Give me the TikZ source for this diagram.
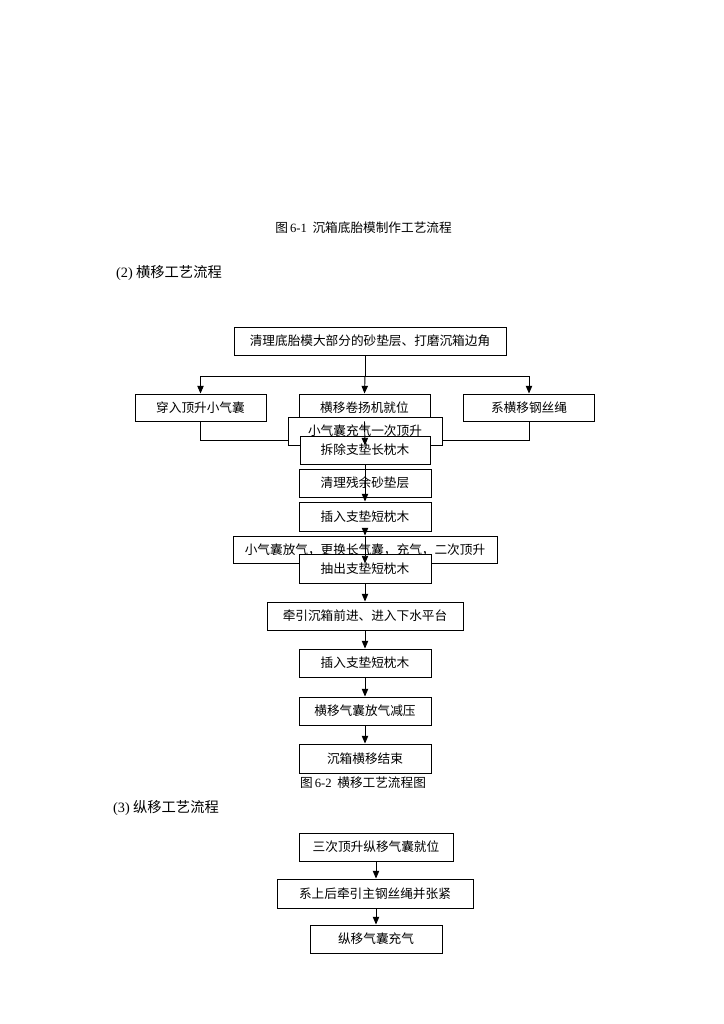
\documentclass[tikz,border=0pt]{standalone}
\usepackage{fontspec}
\setmainfont{Noto Sans CJK SC}
\newfontfamily\lat{Liberation Serif}
\usetikzlibrary{arrows.meta,calc}
\tikzset{
  box/.style={draw=black, line width=0.8pt, fill=white, inner sep=0pt,
    font=\fontsize{10.8}{12}\selectfont},
  txt/.style={inner sep=0pt, font=\fontsize{10.8}{12}\selectfont},
  head/.style={inner sep=0pt, font=\fontsize{12.2}{14}\selectfont},
  ln/.style={line width=0.8pt},
  arr/.style={line width=0.8pt, -{Triangle[length=2.3mm,width=1.9mm]}}
}
\begin{document}
\begin{tikzpicture}[x=0.3mm,y=-0.3mm]
\useasboundingbox (0,0) rectangle (724,1024);
% captions
\node[txt] (cap1) at (363.5,228) {图{\lat\,6-1}\ \ 沉箱底胎模制作工艺流程};
\node[head,anchor=west] (sec2) at (116,273) {{\lat(2)}\ 横移工艺流程};
\node[txt] (cap2) at (363,783) {图{\lat\,6-2}\ \ 横移工艺流程图};
\node[head,anchor=west] (sec3) at (113,808) {{\lat(3)}\ 纵移工艺流程};
% boxes
\node[box,minimum width=272*0.3mm,minimum height=28*0.3mm] (b1) at (370,341) {清理底胎模大部分的砂垫层、打磨沉箱边角};
\node[box,minimum width=131*0.3mm,minimum height=27*0.3mm] (L) at (200.5,407.5) {穿入顶升小气囊};
\node[box,minimum width=131*0.3mm,minimum height=27*0.3mm] (M) at (364.5,407.5) {横移卷扬机就位};
\node[box,minimum width=131*0.3mm,minimum height=27*0.3mm] (R) at (529,407.5) {系横移钢丝绳};
\node[box,minimum width=154*0.3mm,minimum height=28*0.3mm] (qi) at (365,431) {小气囊充气一次顶升};
\node[box,minimum width=130*0.3mm,minimum height=28*0.3mm] (cc) at (365,450) {拆除支垫长枕木};
\node[box,minimum width=132*0.3mm,minimum height=28*0.3mm] (ql) at (365,483) {清理残余砂垫层};
\node[box,minimum width=132*0.3mm,minimum height=29*0.3mm] (cr1) at (365,516.5) {插入支垫短枕木};
\node[box,minimum width=264*0.3mm,minimum height=27*0.3mm] (fq) at (365,549.5) {小气囊放气，更换长气囊，充气，二次顶升};
\node[box,minimum width=132*0.3mm,minimum height=29*0.3mm] (cz) at (365,568.5) {抽出支垫短枕木};
\node[box,minimum width=196*0.3mm,minimum height=28*0.3mm] (qy) at (365,616) {牵引沉箱前进、进入下水平台};
\node[box,minimum width=132*0.3mm,minimum height=28*0.3mm] (cr2) at (365,663) {插入支垫短枕木};
\node[box,minimum width=132*0.3mm,minimum height=28*0.3mm] (hq) at (365,711) {横移气囊放气减压};
\node[box,minimum width=132*0.3mm,minimum height=29*0.3mm] (jc) at (365,758.5) {沉箱横移结束};
\node[box,minimum width=154*0.3mm,minimum height=28*0.3mm] (z1) at (376,847) {三次顶升纵移气囊就位};
\node[box,minimum width=196*0.3mm,minimum height=29*0.3mm] (z2) at (375,893.5) {系上后牵引主钢丝绳并张紧};
\node[box,minimum width=132*0.3mm,minimum height=28*0.3mm] (z3) at (376,939) {纵移气囊充气};
% split connectors
\coordinate (bus) at (365,376);
\draw[ln] (b1.south -| bus) -- (bus);
\draw[arr] (bus -| L) -- (L.north);
\draw[arr] (bus) -- (M.north);
\draw[arr] (bus -| R) -- (R.north);
\draw[ln] (bus -| L) -- (bus -| R);
% merge brackets
\coordinate (mg) at (0,440);
\draw[ln] (L.south) -- (mg -| L) -- (mg -| qi.west);
\draw[ln] (R.south) -- (mg -| R) -- (mg -| qi.east);
% middle stack arrows
\draw[arr] (M.south) -- (qi.south);
\draw[arr] (cc.south) -- (cr1.north);
\draw[arr] (cr1.south) -- (fq.north);
\draw[arr] (fq.north) -- (fq.south);
\draw[arr] (cz.south) -- (qy.north);
\draw[arr] (qy.south) -- (cr2.north);
\draw[arr] (cr2.south) -- (hq.north);
\draw[arr] (hq.south) -- (jc.north);
\draw[arr] (z1.south) -- (z1.south |- z2.north);
\draw[arr] (z2.south -| z3) -- (z3.north);
\end{tikzpicture}
\end{document}
